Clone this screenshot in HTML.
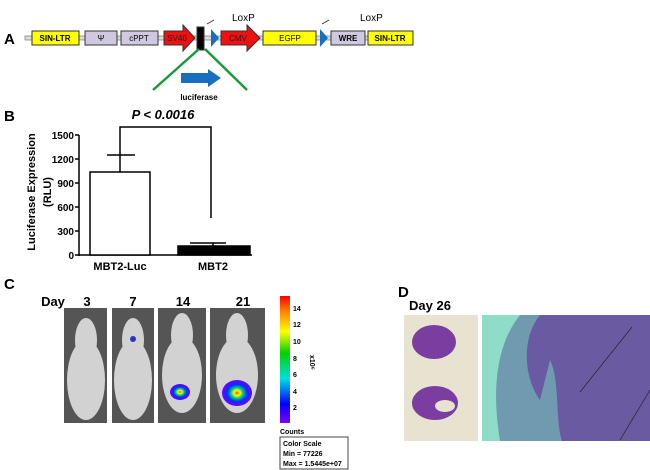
<!DOCTYPE html><html><head><style>body{margin:0;background:#fff}svg{display:block}text{font-family:"Liberation Sans",sans-serif}</style></head><body>
<svg width="650" height="470" xmlns="http://www.w3.org/2000/svg">
<defs>
<linearGradient id="cb" x1="0" y1="1" x2="0" y2="0"><stop offset="0" stop-color="#8000ff"/><stop offset="0.15" stop-color="#0000ff"/><stop offset="0.35" stop-color="#00e0e0"/><stop offset="0.55" stop-color="#00d000"/><stop offset="0.72" stop-color="#ffff00"/><stop offset="0.88" stop-color="#ff8000"/><stop offset="1" stop-color="#ff0000"/></linearGradient>
<radialGradient id="sig"><stop offset="0" stop-color="#ff4000"/><stop offset="0.2" stop-color="#ffff00"/><stop offset="0.4" stop-color="#00d080"/><stop offset="0.65" stop-color="#0030ff"/><stop offset="1" stop-color="#7000ff"/></radialGradient>
</defs>
<!-- A -->
<text x="4" y="44" font-size="15" font-weight="bold">A</text>
<rect x="25" y="36" width="372" height="4" fill="#ddd" stroke="#777" stroke-width="0.7"/>
<g stroke="#333" stroke-width="1" font-size="8" text-anchor="middle">
<rect x="32" y="31" width="47" height="14" fill="#ffff00"/><text x="55" y="41" stroke="none" font-weight="bold">SIN-LTR</text>
<rect x="85" y="31" width="32" height="14" fill="#d0c8e0"/><text x="101" y="41" stroke="none">Ψ</text>
<rect x="121" y="31" width="37" height="14" fill="#d0c8e0"/><text x="139" y="41" stroke="none">cPPT</text>
<polygon points="164,31 183,31 183,25 195,38 183,51 183,45 164,45" fill="#ee1111"/><text x="177" y="41" stroke="none" fill="#222">SV40</text>
<rect x="197" y="27" width="7" height="23" fill="#000"/>
<polygon points="211,29 219,38 211,47" fill="#1a6ec0" stroke="none"/>
<polygon points="221,31 247,31 247,25 260,38 247,51 247,45 221,45" fill="#ee1111"/><text x="238" y="41" stroke="none" fill="#222">CMV</text>
<rect x="263" y="31" width="53" height="14" fill="#ffff00"/><text x="290" y="41" stroke="none">EGFP</text>
<polygon points="320,29 328,38 320,47" fill="#1a6ec0" stroke="none"/>
<rect x="331" y="31" width="34" height="14" fill="#d0c8e0"/><text x="348" y="41" stroke="none" font-weight="bold">WRE</text>
<rect x="368" y="31" width="45" height="14" fill="#ffff00"/><text x="390" y="41" stroke="none" font-weight="bold">SIN-LTR</text>
</g>
<text x="232" y="21" font-size="10">LoxP</text><text x="360" y="21" font-size="10">LoxP</text>
<line x1="207" y1="24" x2="214" y2="20" stroke="#333"/><line x1="322" y1="24" x2="329" y2="20" stroke="#333"/>
<line x1="199" y1="49" x2="153" y2="90" stroke="#1a9a3a" stroke-width="2.5"/>
<line x1="205" y1="49" x2="247" y2="90" stroke="#1a9a3a" stroke-width="2.5"/>
<polygon points="181,73 208,73 208,69 221,78 208,87 208,83 181,83" fill="#1a6ec0"/>
<text x="199" y="100" font-size="8" font-weight="bold" text-anchor="middle">luciferase</text>
<!-- B -->
<text x="4" y="121" font-size="15" font-weight="bold">B</text>
<text x="163" y="119" font-size="13" font-weight="bold" font-style="italic" text-anchor="middle">P &lt; 0.0016</text>
<polyline points="120,155 120,127 211,127 211,218" fill="none" stroke="#000" stroke-width="1.5"/>
<g font-size="10" font-weight="bold" text-anchor="end">
<text x="74" y="139">1500</text><text x="74" y="163">1200</text><text x="74" y="187">900</text><text x="74" y="211">600</text><text x="74" y="235">300</text><text x="74" y="259">0</text></g>
<g stroke="#000" stroke-width="1.5">
<line x1="79" y1="135" x2="79" y2="256"/><line x1="75" y1="135" x2="79" y2="135"/><line x1="75" y1="159" x2="79" y2="159"/><line x1="75" y1="183" x2="79" y2="183"/><line x1="75" y1="207" x2="79" y2="207"/><line x1="75" y1="231" x2="79" y2="231"/><line x1="75" y1="255" x2="79" y2="255"/>
<line x1="79" y1="255" x2="252" y2="255"/>
<rect x="90" y="172" width="60" height="83" fill="#fff"/>
<line x1="120" y1="172" x2="120" y2="155"/><line x1="107" y1="155" x2="135" y2="155"/>
<rect x="178" y="246" width="72" height="9" fill="#000"/>
<line x1="213" y1="246" x2="213" y2="243"/><line x1="190" y1="243" x2="226" y2="243"/>
</g>
<text transform="translate(35,192) rotate(-90)" font-size="11" font-weight="bold" text-anchor="middle">Luciferase Expression</text>
<text transform="translate(51,192) rotate(-90)" font-size="11" font-weight="bold" text-anchor="middle">(RLU)</text>
<text x="120" y="270" font-size="11" font-weight="bold" text-anchor="middle">MBT2-Luc</text>
<text x="213" y="270" font-size="11" font-weight="bold" text-anchor="middle">MBT2</text>
<!-- C -->
<text x="4" y="289" font-size="15" font-weight="bold">C</text>
<g font-size="13" font-weight="bold" text-anchor="middle"><text x="53" y="306">Day</text><text x="87" y="306">3</text><text x="133" y="306">7</text><text x="183" y="306">14</text><text x="243" y="306">21</text></g>
<g>
<rect x="64" y="308" width="43" height="115" fill="#555"/><rect x="112" y="308" width="42" height="115" fill="#555"/><rect x="158" y="308" width="48" height="115" fill="#555"/><rect x="210" y="308" width="55" height="115" fill="#555"/>
<g fill="#d2d2d2">
<ellipse cx="86" cy="380" rx="19" ry="40"/><ellipse cx="86" cy="340" rx="11" ry="22"/>
<ellipse cx="133" cy="380" rx="19" ry="40"/><ellipse cx="133" cy="340" rx="11" ry="22"/>
<ellipse cx="182" cy="375" rx="20" ry="38"/><ellipse cx="182" cy="335" rx="11" ry="22"/>
<ellipse cx="237" cy="375" rx="21" ry="38"/><ellipse cx="237" cy="335" rx="11" ry="22"/>
</g>
<circle cx="133" cy="339" r="3" fill="#3030d0"/>
<ellipse cx="180" cy="392" rx="10" ry="8" fill="url(#sig)"/>
<ellipse cx="237" cy="393" rx="15" ry="13" fill="url(#sig)"/>
</g>
<rect x="280" y="296" width="10" height="127" fill="url(#cb)"/>
<g font-size="7" font-weight="bold"><text x="293" y="311">14</text><text x="293" y="327">12</text><text x="293" y="344">10</text><text x="293" y="361">8</text><text x="293" y="377">6</text><text x="293" y="394">4</text><text x="293" y="410">2</text>
<text x="310" y="355" transform="rotate(90 310 355)">x10⁶</text>
<text x="280" y="434">Counts</text></g>
<rect x="280" y="437" width="68" height="32" fill="#fff" stroke="#444"/>
<g font-size="7" font-weight="bold"><text x="283" y="446">Color Scale</text><text x="283" y="456">Min = 77226</text><text x="283" y="466">Max = 1.5445e+07</text></g>
<!-- D -->
<text x="398" y="297" font-size="15" font-weight="bold">D</text>
<text x="409" y="310" font-size="13" font-weight="bold">Day  26</text>
<rect x="404" y="315" width="74" height="126" fill="#e8e2d0"/>
<ellipse cx="434" cy="342" rx="22" ry="17" fill="#7a3ea0"/>
<ellipse cx="435" cy="403" rx="23" ry="17" fill="#7a3ea0"/><ellipse cx="445" cy="406" rx="10" ry="6" fill="#e8e2d0"/>
<rect x="482" y="315" width="168" height="126" fill="#8fdcc8"/>
<path d="M520,315 C500,340 490,380 500,441 L650,441 L650,315 Z" fill="#6f9ab0"/>
<path d="M540,315 C520,340 525,380 540,400 L550,360 C560,380 555,420 562,441 L650,441 L650,315 Z" fill="#6a5aa2"/>
<line x1="580" y1="392" x2="632" y2="327" stroke="#222" stroke-width="0.7"/><line x1="620" y1="440" x2="650" y2="390" stroke="#222" stroke-width="0.7"/>
</svg></body></html>
